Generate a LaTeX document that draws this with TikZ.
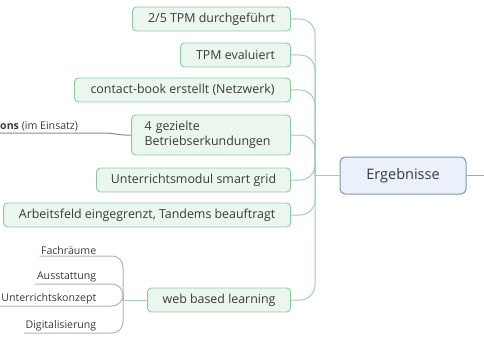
\documentclass[tikz,border=0pt]{standalone}
\usepackage{fontspec}
\setmainfont{Open Sans}
\definecolor{boxfill}{HTML}{EBF6EE}
\definecolor{boxdraw}{HTML}{8FC9A3}
\definecolor{brline}{HTML}{9FD0B0}
\definecolor{centfill}{HTML}{EAF1FA}
\definecolor{centdraw}{HTML}{7D97B3}
\definecolor{txt}{HTML}{3A3A3A}
\definecolor{subline}{HTML}{B4B4B4}
\definecolor{onsline}{HTML}{8A8A8A}
\tikzset{
  topicbox/.style={draw=boxdraw, fill=boxfill, rounded corners=4pt, line width=0.9pt,
    minimum height=24pt, inner sep=2pt, text=txt, font=\fontsize{12.4}{15}\selectfont, anchor=east},
  centbox/.style={draw=centdraw, fill=centfill, rounded corners=5pt, line width=1pt,
    minimum width=126pt, minimum height=37pt, text=txt, font=\fontsize{14.5}{17}\selectfont},
  branch/.style={draw=brline, line width=1pt, rounded corners=15pt},
  subbranch/.style={draw=subline, line width=1pt, rounded corners=11pt},
  sublabel/.style={text=txt, font=\fontsize{10.6}{12}\selectfont, inner sep=1.5pt, anchor=south east},
}
\begin{document}
\begin{tikzpicture}[x=1pt,y=-1pt]
\useasboundingbox (0,0) rectangle (484,350);
% central
\node[centbox] (erg) at (403,175.5) {Ergebnisse};
\coordinate (rend) at (484,175.5);
\coordinate (trunk) at (315,175.5);
% topics
\node[topicbox, minimum width=158pt] (b1) at (291,19) {2/5 TPM durchgeführt};
\node[topicbox, minimum width=110pt] (b2) at (291,55) {TPM evaluiert};
\node[topicbox, minimum width=216pt] (b3) at (291,90) {contact-book erstellt (Netzwerk)};
\node[topicbox, minimum width=159pt, minimum height=40pt, align=left, text width=133pt, inner sep=0pt] (b4) at (291,135) {4 gezielte\\Betriebserkundungen};
\node[topicbox, minimum width=194pt] (b5) at (291,180) {Unterrichtsmodul smart grid};
\node[topicbox, minimum width=287pt] (b6) at (291,215) {Arbeitsfeld eingegrenzt, Tandems beauftragt};
\node[topicbox, minimum width=143pt] (b7) at (291,300) {web based learning};
% connectors
\draw[draw=brline, line width=1pt] (erg.west) -- (trunk);
\draw[draw=centdraw!80, line width=1pt] (erg.east) -- (rend);
\foreach \b in {b1,b2,b3,b4,b5,b6,b7}{
  \draw[branch] (trunk) -- (trunk |- \b.east) -- (\b.east);
}
% left of web based learning
\coordinate (wj) at (123,300);
\draw[draw=brline, line width=1pt] (b7.west) -- (wj);
\node[sublabel] (s1) at (98,256) {Fachräume};
\node[sublabel] (s2) at (98,284) {Ausstattung};
\node[sublabel] (s3) at (98,306) {Unterrichtskonzept};
\node[sublabel] (s4) at (98,333) {Digitalisierung};
\foreach \s in {s1,s2,s3,s4}{
  \draw[subbranch] (wj) -- (wj |- \s.south) -- (\s.south west);
}
% partial label left of box 4
\node[text=txt, font=\fontsize{10.6}{12}\selectfont, inner sep=1.5pt, anchor=south west] (ons) at (-1.5,133) {\textbf{ons} (im Einsatz)};
\coordinate (onsend) at (102,133);
\draw[draw=onsline, line width=1pt] (b4.west) .. controls (117,135.5) and (116,133) .. (onsend) -- (ons.south west);
\end{tikzpicture}
\end{document}
